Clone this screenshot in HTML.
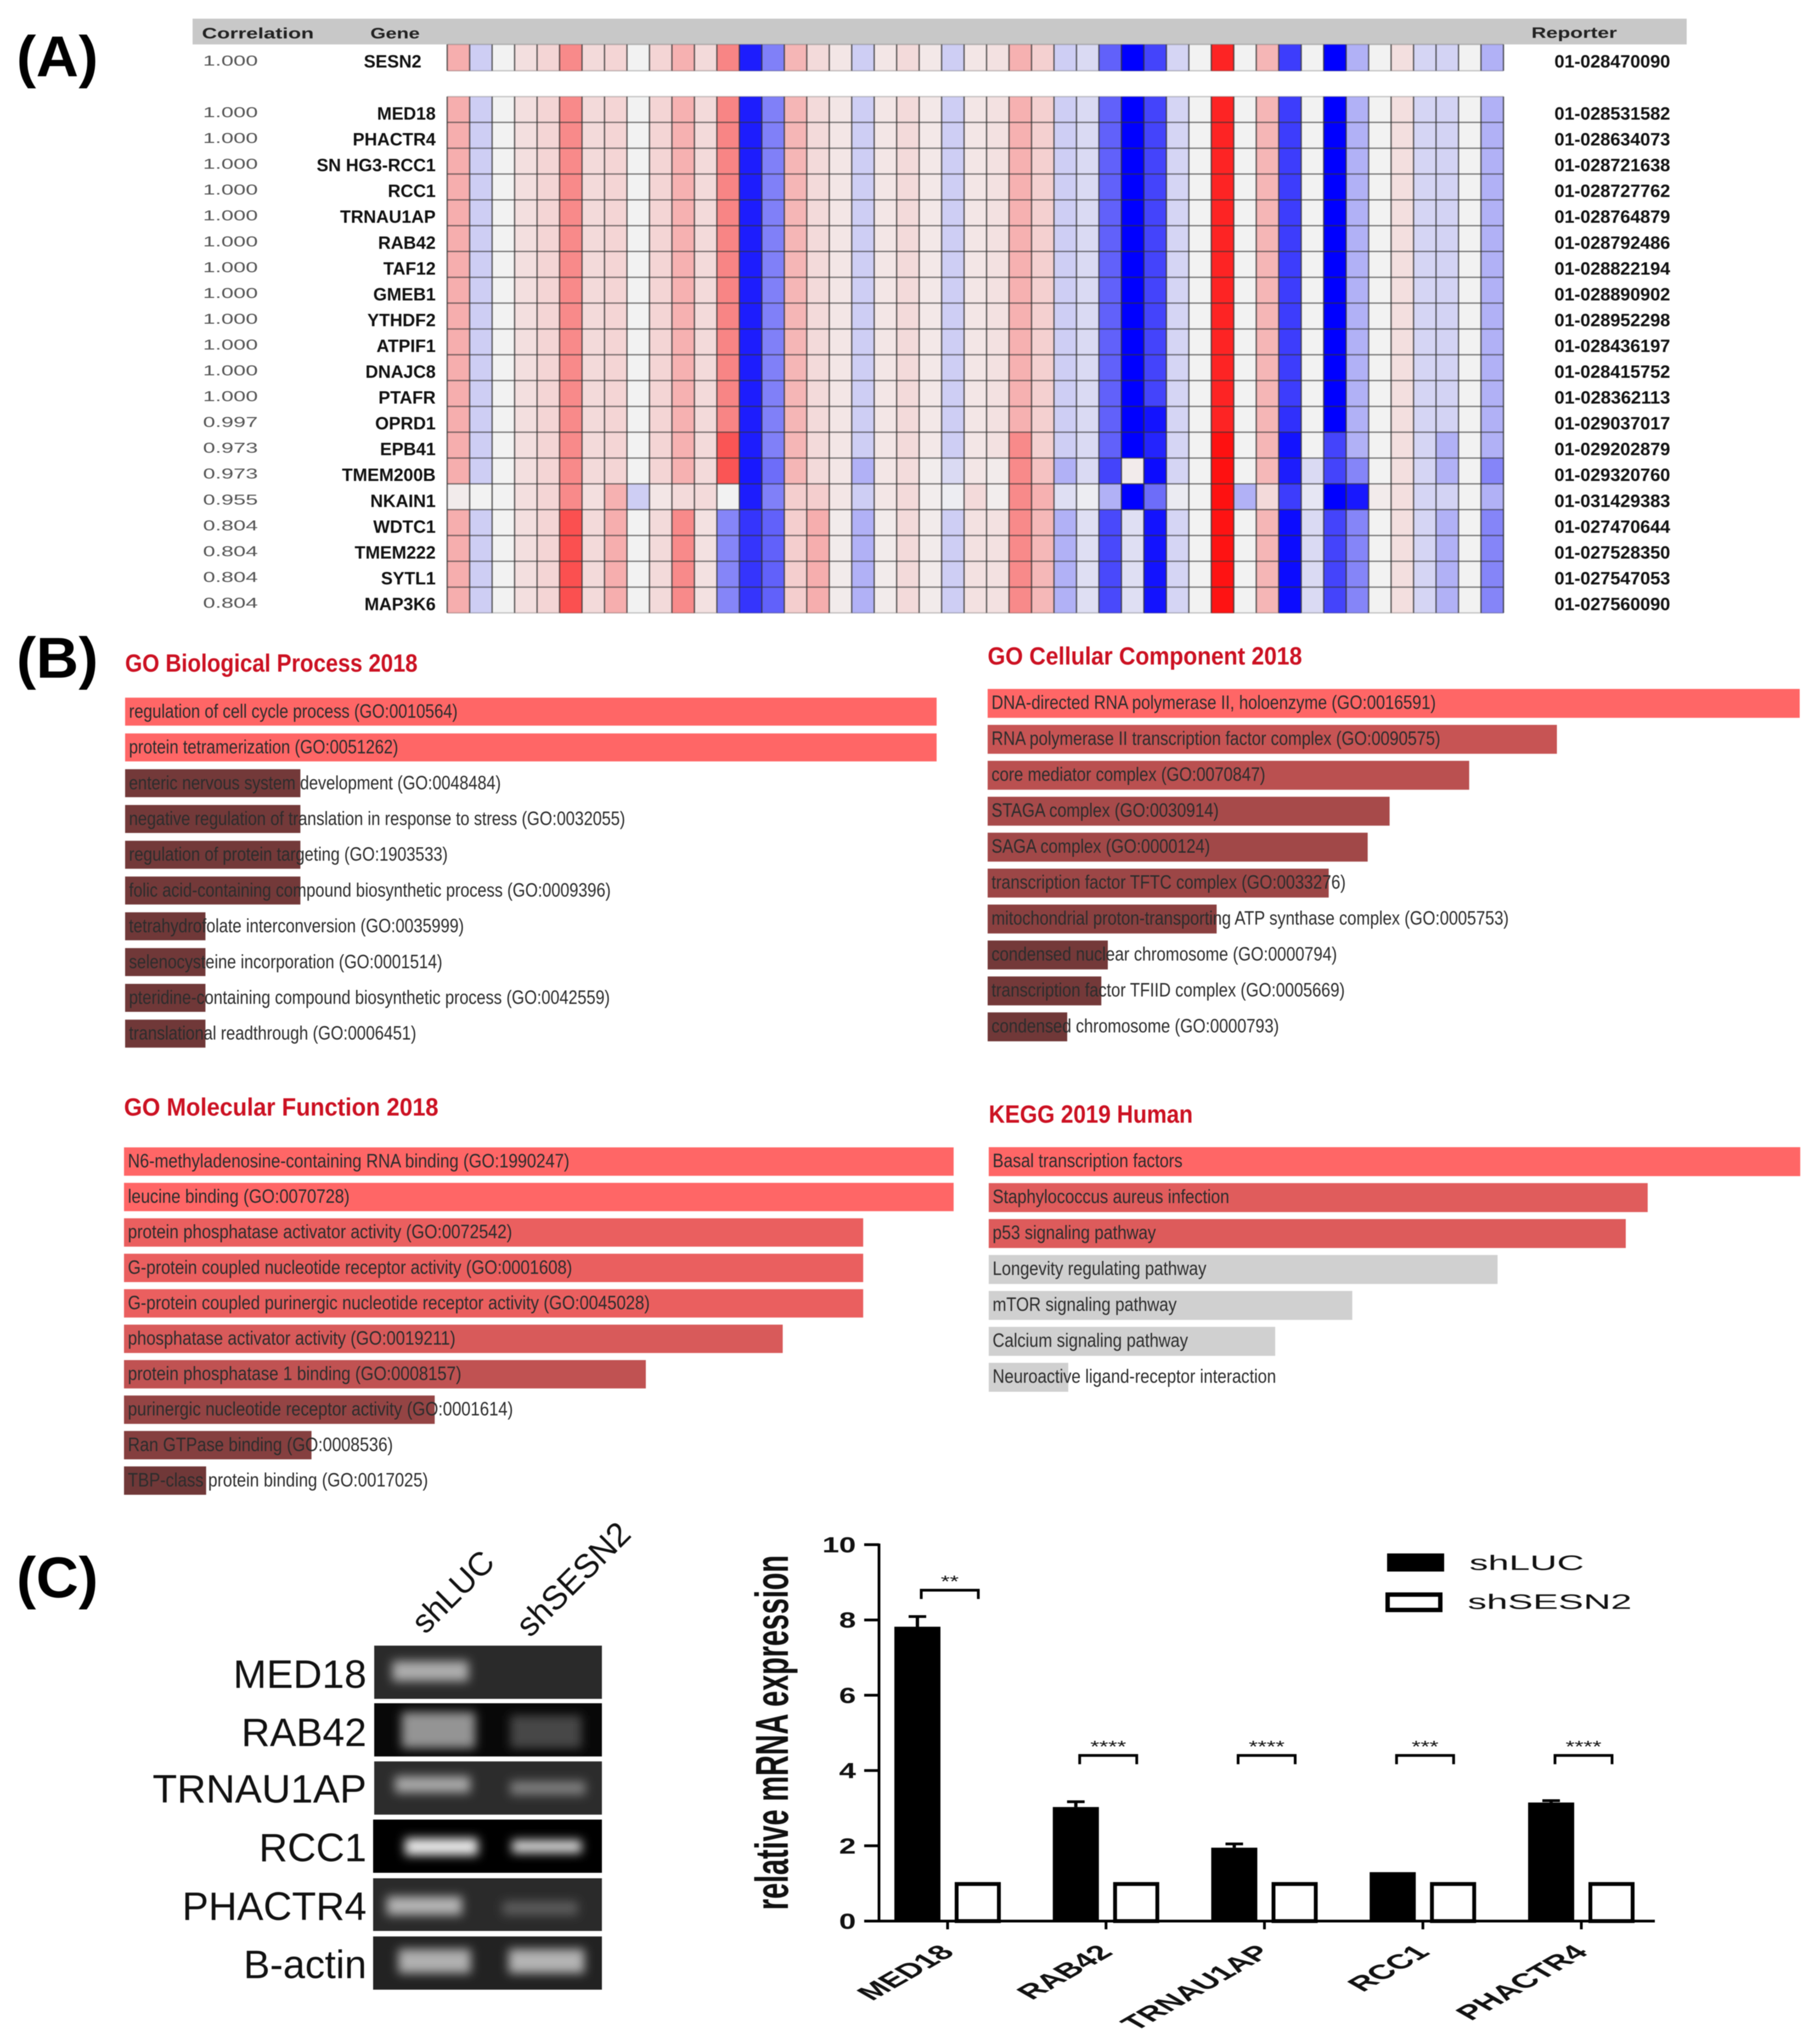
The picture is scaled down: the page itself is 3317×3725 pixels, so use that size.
<!DOCTYPE html>
<html lang="en">
<head>
<meta charset="utf-8">
<title>SESN2 co-expression, enrichment and validation figure</title>
<style>
html,body{margin:0;padding:0;background:#fff;}
svg{display:block;filter:blur(0.9px);}
text{font-family:"Liberation Sans",sans-serif;}
</style>
</head>
<body>
<svg id="figure" xmlns="http://www.w3.org/2000/svg" width="3317" height="3725" viewBox="0 0 3317 3725">
<defs><filter id="bandBlur" x="-40%" y="-80%" width="180%" height="260%"><feGaussianBlur stdDeviation="9"/></filter></defs>
<rect x="0" y="0" width="3317" height="3725" fill="#fff"/>

<text x="30" y="139" font-size="105" font-weight="700" fill="#000" textLength="149" lengthAdjust="spacingAndGlyphs">(A)</text>
<text x="30" y="1235" font-size="105" font-weight="700" fill="#000" textLength="149" lengthAdjust="spacingAndGlyphs">(B)</text>
<text x="30" y="2911" font-size="105" font-weight="700" fill="#000" textLength="149" lengthAdjust="spacingAndGlyphs">(C)</text>

<g id="panel-a">
<rect x="351" y="34" width="2723" height="47" fill="#c8c8c8"/>
<text x="368" y="70" font-size="28" font-weight="700" fill="#222" textLength="204" lengthAdjust="spacingAndGlyphs">Correlation</text>
<text x="675" y="70" font-size="28" font-weight="700" fill="#222" textLength="90" lengthAdjust="spacingAndGlyphs">Gene</text>
<text x="2791" y="69" font-size="28" font-weight="700" fill="#222" textLength="156" lengthAdjust="spacingAndGlyphs">Reporter</text>
</g>

<g id="panel-b">
<text x="228" y="1224" font-size="45" fill="#cc1122" font-weight="700" textLength="533" lengthAdjust="spacingAndGlyphs">GO Biological Process 2018</text>
<text x="1800" y="1211" font-size="45" fill="#cc1122" font-weight="700" textLength="573" lengthAdjust="spacingAndGlyphs">GO Cellular Component 2018</text>
<text x="226" y="2033" font-size="45" fill="#cc1122" font-weight="700" textLength="573" lengthAdjust="spacingAndGlyphs">GO Molecular Function 2018</text>
<text x="1802" y="2046" font-size="45" fill="#cc1122" font-weight="700" textLength="372" lengthAdjust="spacingAndGlyphs">KEGG 2019 Human</text>
</g>

<g id="panel-gel">
<text transform="translate(775,2980) rotate(-45)" font-size="60" fill="#111">shLUC</text>
<text transform="translate(966,2986) rotate(-45)" font-size="61" fill="#111">shSESN2</text>
<text x="668" y="3076" font-size="72" fill="#111" text-anchor="end" textLength="243" lengthAdjust="spacingAndGlyphs">MED18</text>
<text x="668" y="3182" font-size="72" fill="#111" text-anchor="end">RAB42</text>
<text x="668" y="3285" font-size="72" fill="#111" text-anchor="end" textLength="390" lengthAdjust="spacingAndGlyphs">TRNAU1AP</text>
<text x="668" y="3392" font-size="72" fill="#111" text-anchor="end">RCC1</text>
<text x="668" y="3499" font-size="72" fill="#111" text-anchor="end">PHACTR4</text>
<text x="668" y="3605" font-size="72" fill="#111" text-anchor="end">B-actin</text>

<g>
<rect x="682" y="2999" width="415" height="97" fill="#2a2a2a"/>
<rect x="715" y="3027" width="139" height="37" fill="#adadad" filter="url(#bandBlur)"/>
</g>
<g>
<rect x="682" y="3104" width="415" height="97" fill="#080808"/>
<rect x="732" y="3120" width="134" height="66" fill="#949494" filter="url(#bandBlur)"/>
<rect x="930" y="3126" width="130" height="60" fill="#464646" filter="url(#bandBlur)"/>
</g>
<g>
<rect x="682" y="3210" width="415" height="97" fill="#2c2c2c"/>
<rect x="720" y="3237" width="137" height="30" fill="#a8a8a8" filter="url(#bandBlur)"/>
<rect x="930" y="3246" width="137" height="25" fill="#7e7e7e" filter="url(#bandBlur)"/>
</g>
<g>
<rect x="680" y="3316" width="417" height="97" fill="#000"/>
<rect x="738" y="3350" width="133" height="31" fill="#e8e8e8" filter="url(#bandBlur)"/>
<rect x="933" y="3353" width="127" height="24" fill="#d4d4d4" filter="url(#bandBlur)"/>
</g>
<g>
<rect x="680" y="3423" width="417" height="96" fill="#2a2a2a"/>
<rect x="705" y="3456" width="137" height="34" fill="#b4b4b4" filter="url(#bandBlur)"/>
<rect x="916" y="3465" width="137" height="25" fill="#5c5c5c" filter="url(#bandBlur)"/>
</g>
<g>
<rect x="680" y="3529" width="417" height="97" fill="#222"/>
<rect x="726" y="3552" width="132" height="44" fill="#b0b0b0" filter="url(#bandBlur)"/>
<rect x="927" y="3552" width="138" height="44" fill="#b4b4b4" filter="url(#bandBlur)"/>
</g>
</g>

<g id="panel-bars">
<text transform="translate(1436,3481) rotate(-90)" font-size="84" font-weight="700" fill="#111" textLength="647" lengthAdjust="spacingAndGlyphs">relative mRNA expression</text>
<g>
<rect x="2528" y="2831" width="104" height="33" fill="#000"/>
<text x="2678" y="2861" font-size="38" fill="#111" textLength="209" lengthAdjust="spacingAndGlyphs">shLUC</text>
<rect x="2529" y="2906" width="96" height="28" fill="#fff" stroke="#000" stroke-width="8"/>
<text x="2675" y="2932" font-size="38" fill="#111" textLength="299" lengthAdjust="spacingAndGlyphs">shSESN2</text>
</g>
</g>
</svg>

<script>
/* ---------- Panel A data ---------- */
const geneNames = ["SESN2","MED18","PHACTR4","SN HG3-RCC1","RCC1","TRNAU1AP","RAB42","TAF12","GMEB1","YTHDF2","ATPIF1","DNAJC8","PTAFR","OPRD1","EPB41","TMEM200B","NKAIN1","WDTC1","TMEM222","SYTL1","MAP3K6"];
const correlationValues = ["1.000","1.000","1.000","1.000","1.000","1.000","1.000","1.000","1.000","1.000","1.000","1.000","1.000","0.997","0.973","0.973","0.955","0.804","0.804","0.804","0.804"];
const reporterIds = ["01-028470090","01-028531582","01-028634073","01-028721638","01-028727762","01-028764879","01-028792486","01-028822194","01-028890902","01-028952298","01-028436197","01-028415752","01-028362113","01-029037017","01-029202879","01-029320760","01-031429383","01-027470644","01-027528350","01-027547053","01-027560090"];
const profileMain = [.28,-.15,0,.08,.12,.43,.1,.12,0,.12,.27,.1,.45,-.88,-.47,.25,.1,.05,-.15,.05,.1,.04,-.15,.05,.07,.27,.14,-.15,-.1,-.6,-1,-.72,-.12,0,.85,0,.25,-.75,0,-1,-.27,0,.08,-.12,-.13,0,-.27];
const profileOprd1 = [.28,-.15,0,.08,.12,.43,.1,.12,0,.12,.27,.1,.45,-.88,-.47,.25,.1,.05,-.15,.05,.1,.04,-.15,.05,.07,.27,.14,-.15,-.1,-.6,-1,-.92,-.12,0,.85,0,.25,-.8,0,-1,-.27,0,.08,-.12,-.13,0,-.27];
const profileEpb41 = [.28,-.15,0,.08,.12,.43,.1,.12,0,.12,.27,.1,.65,-.88,-.47,.25,.1,.05,-.15,.05,.1,.04,-.15,.05,.07,.43,.14,-.15,-.1,-.6,-1,-.85,-.12,0,.93,0,.25,-.92,0,-.72,-.27,0,.08,-.12,-.27,0,-.27];
const profileTmem200b = [.28,-.15,0,.08,.12,.43,.1,.12,0,.12,.27,.1,.65,-.9,-.55,.25,.1,.05,-.27,.05,.09,.02,-.1,.05,.03,.43,.2,-.27,-.1,-.72,.03,-.95,-.12,0,.93,0,.24,-.88,-.1,-.72,-.45,0,.08,-.12,-.27,0,-.45];
const profileNkain1 = [.03,0,0,.08,.12,.43,.08,.27,-.15,.05,.1,.1,0,-.88,-.47,.15,.15,.05,-.15,.05,.1,.02,-.02,.1,.02,.43,.27,-.08,-.02,-.27,-1,-.55,-.03,0,.93,-.27,.1,-.75,-.05,-1,-.9,.03,.08,-.12,-.13,0,-.27];
const profileLower = [.28,-.15,0,.08,.12,.67,.1,.28,0,.1,.43,.07,-.45,-.78,-.6,.15,.28,.03,-.27,.03,.1,.03,-.15,.07,.07,.43,.24,-.27,-.08,-.7,-.08,-.92,-.12,0,.92,0,.25,-.95,-.1,-.72,-.45,0,.08,-.12,-.27,0,-.45];
const heatmapRows = [profileMain,profileMain,profileMain,profileMain,profileMain,profileMain,profileMain,profileMain,profileMain,profileMain,profileMain,profileMain,profileMain,profileOprd1,profileEpb41,profileTmem200b,profileNkain1,profileLower,profileLower,profileLower,profileLower];

/* ---------- Panel B data ---------- */
const bioProcessTerms = ["regulation of cell cycle process (GO:0010564)","protein tetramerization (GO:0051262)","enteric nervous system development (GO:0048484)","negative regulation of translation in response to stress (GO:0032055)","regulation of protein targeting (GO:1903533)","folic acid-containing compound biosynthetic process (GO:0009396)","tetrahydrofolate interconversion (GO:0035999)","selenocysteine incorporation (GO:0001514)","pteridine-containing compound biosynthetic process (GO:0042559)","translational readthrough (GO:0006451)"];
const bioProcessScores = [1,1,.216,.216,.216,.216,.099,.099,.099,.099];
const bioProcessSignificance = [1,1,.02,.02,.02,.02,0,0,0,0];
const cellComponentTerms = ["DNA-directed RNA polymerase II, holoenzyme (GO:0016591)","RNA polymerase II transcription factor complex (GO:0090575)","core mediator complex (GO:0070847)","STAGA complex (GO:0030914)","SAGA complex (GO:0000124)","transcription factor TFTC complex (GO:0033276)","mitochondrial proton-transporting ATP synthase complex (GO:0005753)","condensed nuclear chromosome (GO:0000794)","transcription factor TFIID complex (GO:0005669)","condensed chromosome (GO:0000793)"];
const cellComponentScores = [1,.701,.593,.495,.468,.42,.282,.148,.14,.098];
const cellComponentSignificance = [1,.61,.52,.385,.34,.31,.18,.03,.03,0];
const molFunctionTerms = ["N6-methyladenosine-containing RNA binding (GO:1990247)","leucine binding (GO:0070728)","protein phosphatase activator activity (GO:0072542)","G-protein coupled nucleotide receptor activity (GO:0001608)","G-protein coupled purinergic nucleotide receptor activity (GO:0045028)","phosphatase activator activity (GO:0019211)","protein phosphatase 1 binding (GO:0008157)","purinergic nucleotide receptor activity (GO:0001614)","Ran GTPase binding (GO:0008536)","TBP-class protein binding (GO:0017025)"];
const molFunctionScores = [1,1,.891,.891,.891,.794,.629,.3745,.226,.099];
const molFunctionSignificance = [1,1,.85,.85,.85,.73,.56,.25,.15,0];
const keggTerms = ["Basal transcription factors","Staphylococcus aureus infection","p53 signaling pathway","Longevity regulating pathway","mTOR signaling pathway","Calcium signaling pathway","Neuroactive ligand-receptor interaction"];
const keggScores = [1,.812,.785,.627,.448,.353,.098];
const keggSignificance = [1,.78,.76,null,null,null,null];

/* ---------- Panel C data ---------- */
const barCategories = ["MED18","RAB42","TRNAU1AP","RCC1","PHACTR4"];
const shLucValues = [7.82,3.03,1.95,1.3,3.15];
const shLucErrors = [.27,.14,.1,0,.05];
const shSesn2Values = [1,1,1,1,1];
const sigStars = ["**","****","****","***","****"];
const sigLevels = [8.79,4.4,4.4,4.4,4.4];
const yTickValues = [0,2,4,6,8,10];

/* ---------- helpers ---------- */
const NS = "http://www.w3.org/2000/svg";
function make(parent, tag, attrs, txt) {
  const e = document.createElementNS(NS, tag);
  for (const k in attrs) e.setAttribute(k, attrs[k]);
  if (txt !== undefined) e.textContent = txt;
  parent.appendChild(e);
  return e;
}

/* ---------- Heatmap ---------- */
const colWidth = 40.96;
const rowHeight = 47.05;
const colX = c => 815 + c * colWidth;
const rowY = i => i === 0 ? 81 : 176 + (i - 1) * rowHeight;
const rowH = i => i === 0 ? 48 : rowHeight;
const geneBase = i => i === 0 ? 123 : 218 + (i - 1) * rowHeight;
const corrBase = i => i === 0 ? 119.5 : 213.5 + (i - 1) * rowHeight;
const geneRight = i => i === 0 ? 768 : 794;
function heatColor(v) {
  const a = Math.abs(v);
  const low = Math.round(242 * (1 - a));
  const high = Math.round(242 + 13 * a);
  return v >= 0 ? `rgb(${high},${low},${low})` : `rgb(${low},${low},${high})`;
}
const panelA = document.getElementById("panel-a");
heatmapRows.forEach((row, i) => {
  row.forEach((v, c) => {
    const cell = make(panelA, "rect", {x: colX(c), y: rowY(i), width: colWidth + .5, height: rowH(i) + .5, fill: heatColor(v)});
    
    
  });
  const corr = make(panelA, "text", {x: 370, y: corrBase(i), "font-size": 26, fill: "#555", textLength: 100, lengthAdjust: "spacingAndGlyphs"}, correlationValues[i]);
  
  
  const gene = make(panelA, "text", {x: geneRight(i), y: geneBase(i), "font-size": 32, "font-weight": 700, fill: "#111", "text-anchor": "end"}, geneNames[i]);
  
  
  const rep = make(panelA, "text", {x: 2833, y: geneBase(i), "font-size": 32, "font-weight": 700, fill: "#111", textLength: 211, lengthAdjust: "spacingAndGlyphs"}, reporterIds[i]);
  
  
});
const gridBlocks = [[0, 0], [1, 20]];
gridBlocks.forEach(([first, last]) => {
  const top = rowY(first);
  const bottom = rowY(last) + rowH(last);
  for (let c = 0; c <= heatmapRows[0].length; c++) {
    const v = make(panelA, "line", {x1: colX(c), x2: colX(c), y1: top, y2: bottom, stroke: "rgba(50,50,50,.72)", "stroke-width": 2.6});
    
    
  }
  for (let i = first; i <= last + 1; i++) {
    const y = i === last + 1 ? bottom : rowY(i);
    const edge = i === first || i === last + 1;
    const h = make(panelA, "line", {x1: colX(0), x2: colX(47), y1: y, y2: y, stroke: edge ? "rgba(90,90,90,.3)" : "rgba(50,50,50,.6)", "stroke-width": 2.5});
    
    
  }
});

/* ---------- Enrichment bars ---------- */
const panelB = document.getElementById("panel-b");
function barColor(s) {
  if (s === null) return "#d0d0d0";
  const mix = (a, b) => Math.round(a + (b - a) * s);
  return `rgb(${mix(112,255)},${mix(56,102)},${mix(56,102)})`;
}
function drawEnrichment(name, terms, scores, significance, left, full, top, step, height, textScale) {
  const g = make(panelB, "g", {});
  
  
  const xScale = v => v * full;
  const yBand = i => top + i * step;
  terms.forEach((term, i) => {
    const bar = make(g, "rect", {x: left, y: yBand(i), width: xScale(scores[i]), height: height, fill: barColor(significance[i])});
    
    
    const label = make(g, "text", {transform: `translate(${left + 7},${yBand(i) + 36.5}) scale(${textScale},1)`, "font-size": 35, fill: "#2c2c2c"}, term);
    
    
  });
}
drawEnrichment("go-biological-process-chart", bioProcessTerms, bioProcessScores, bioProcessSignificance, 228, 1479, 1271.4, 65.2, 51, .844);
drawEnrichment("go-cellular-component-chart", cellComponentTerms, cellComponentScores, cellComponentSignificance, 1800, 1480, 1255.5, 65.5, 52.7, .85);
drawEnrichment("go-molecular-function-chart", molFunctionTerms, molFunctionScores, molFunctionSignificance, 226, 1512, 2091, 64.6, 51.7, .866);
drawEnrichment("kegg-human-chart", keggTerms, keggScores, keggSignificance, 1802, 1479, 2090.6, 65.5, 52.8, .86);

/* ---------- Bar chart ---------- */
const panelC = document.getElementById("panel-bars");
const yScale = v => 3501 - v * 68.6;
const xTick = i => 1727 + i * 288.75;
const yAxis = make(panelC, "line", {x1: 1602, x2: 1602, y1: yScale(10) - 2, y2: yScale(0), stroke: "#000", "stroke-width": 5});


yTickValues.forEach(t => {
  const tick = make(panelC, "line", {x1: 1575, x2: 1602, y1: yScale(t), y2: yScale(t), stroke: "#000", "stroke-width": 5});
  
  
  const lab = make(panelC, "text", {transform: `translate(1560,${yScale(t) + 14}) scale(1.38,1)`, "font-size": 40, "font-weight": 700, fill: "#111", "text-anchor": "end"}, String(t));
  
  
});
barCategories.forEach((cat, i) => {
  const cx = xTick(i);
  const black = make(panelC, "rect", {x: cx - 97, y: yScale(shLucValues[i]), width: 84, height: yScale(0) - yScale(shLucValues[i]), fill: "#000"});
  
  
  if (shLucErrors[i] > 0) {
    const stem = make(panelC, "line", {x1: cx - 55, x2: cx - 55, y1: yScale(shLucValues[i]), y2: yScale(shLucValues[i] + shLucErrors[i]), stroke: "#000", "stroke-width": 6});
    
    
    const cap = make(panelC, "line", {x1: cx - 71, x2: cx - 39, y1: yScale(shLucValues[i] + shLucErrors[i]), y2: yScale(shLucValues[i] + shLucErrors[i]), stroke: "#000", "stroke-width": 5});
    
    
  }
  const white = make(panelC, "rect", {x: cx + 16.5, y: yScale(shSesn2Values[i]) + 1, width: 77, height: yScale(0) - yScale(shSesn2Values[i]) - 1, fill: "#fff", stroke: "#000", "stroke-width": 7});
  
  
  const tick = make(panelC, "line", {x1: cx, x2: cx, y1: 3501, y2: 3516, stroke: "#000", "stroke-width": 5});
  
  
  const lab = make(panelC, "text", {transform: `translate(${cx + 15},3560) scale(1.75,1) rotate(-45)`, "font-size": 37, "font-weight": 700, fill: "#111", "text-anchor": "end"}, cat);
  
  
  const by = yScale(sigLevels[i]);
  const bx = cx + 4;
  const bracket = make(panelC, "polyline", {points: `${bx - 52},${by + 16} ${bx - 52},${by} ${bx + 52},${by} ${bx + 52},${by + 16}`, fill: "none", stroke: "#000", "stroke-width": 5});
  
  
  const star = make(panelC, "text", {transform: `translate(${bx},${by - 6}) scale(1.4,1)`, "font-size": 30, fill: "#111", "text-anchor": "middle"}, sigStars[i]);
  
  
});
const xAxis = make(panelC, "line", {x1: 1575, x2: 3016, y1: yScale(0), y2: yScale(0), stroke: "#000", "stroke-width": 5});


</script>
</body>
</html>
